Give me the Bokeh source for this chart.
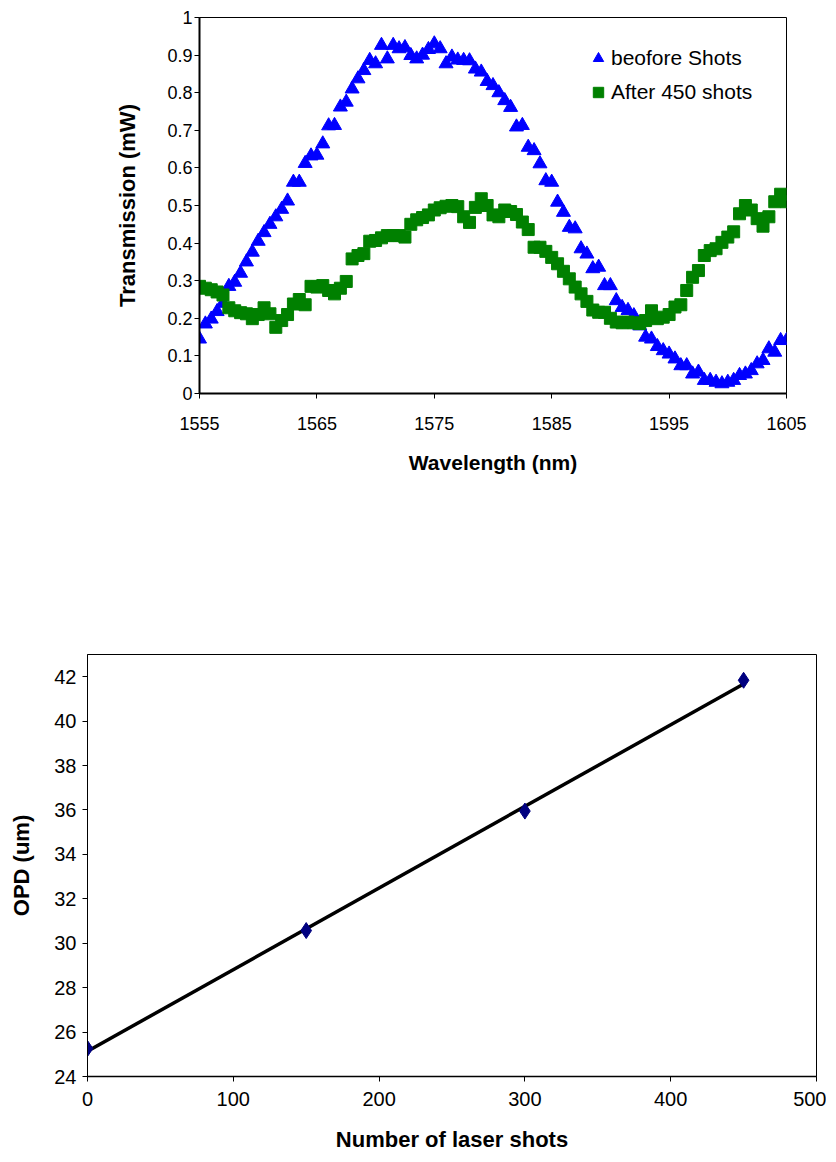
from bokeh.plotting import figure
from bokeh.models import FixedTicker, CustomJSTickFormatter, Range1d, Legend, LegendItem
from bokeh.embed import file_html
from bokeh.resources import INLINE
import numpy as np

# ---------------- data: top chart ----------------
wavelength = [
    1555.0, 1555.5, 1556.0, 1556.5, 1557.0, 1557.5, 1558.0, 1558.5, 1559.0, 1559.5,
    1560.0, 1560.5, 1561.0, 1561.5, 1562.0, 1562.5, 1563.0, 1563.5, 1564.0, 1564.5,
    1565.0, 1565.5, 1566.0, 1566.5, 1567.0, 1567.5, 1568.0, 1568.5, 1569.0, 1569.5,
    1570.0, 1570.5, 1571.0, 1571.5, 1572.0, 1572.5, 1573.0, 1573.5, 1574.0, 1574.5,
    1575.0, 1575.5, 1576.0, 1576.5, 1577.0, 1577.5, 1578.0, 1578.5, 1579.0, 1579.5,
    1580.0, 1580.5, 1581.0, 1581.5, 1582.0, 1582.5, 1583.0, 1583.5, 1584.0, 1584.5,
    1585.0, 1585.5, 1586.0, 1586.5, 1587.0, 1587.5, 1588.0, 1588.5, 1589.0, 1589.5,
    1590.0, 1590.5, 1591.0, 1591.5, 1592.0, 1592.5, 1593.0, 1593.5, 1594.0, 1594.5,
    1595.0, 1595.5, 1596.0, 1596.5, 1597.0, 1597.5, 1598.0, 1598.5, 1599.0, 1599.5,
    1600.0, 1600.5, 1601.0, 1601.5, 1602.0, 1602.5, 1603.0, 1603.5, 1604.0, 1604.5,
    1605.0,
]

before_shots = [
    0.145, 0.185, 0.198, 0.218, 0.240, 0.285, 0.296, 0.320, 0.350, 0.376,
    0.405, 0.428, 0.450, 0.470, 0.490, 0.512, 0.562, 0.562, 0.612, 0.632,
    0.634, 0.664, 0.712, 0.713, 0.762, 0.775, 0.810, 0.837, 0.859, 0.886,
    0.877, 0.926, 0.890, 0.926, 0.917, 0.920, 0.899, 0.890, 0.900, 0.915,
    0.930, 0.917, 0.877, 0.895, 0.887, 0.886, 0.885, 0.863, 0.855, 0.830,
    0.819, 0.800, 0.779, 0.761, 0.709, 0.713, 0.655, 0.646, 0.611, 0.566,
    0.562, 0.509, 0.482, 0.442, 0.438, 0.385, 0.371, 0.332, 0.336, 0.287,
    0.287, 0.247, 0.229, 0.221, 0.207, 0.180, 0.150, 0.145, 0.125, 0.114,
    0.105, 0.092, 0.074, 0.074, 0.052, 0.057, 0.035, 0.035, 0.030, 0.026,
    0.030, 0.035, 0.048, 0.052, 0.061, 0.079, 0.088, 0.119, 0.110, 0.141,
    0.141,
]

after_450_shots = [
    0.285, 0.280, 0.276, 0.270, 0.262, 0.228, 0.220, 0.215, 0.212, 0.199,
    0.210, 0.228, 0.212, 0.176, 0.194, 0.210, 0.238, 0.250, 0.236, 0.285,
    0.283, 0.287, 0.274, 0.265, 0.280, 0.298, 0.358, 0.367, 0.372, 0.405,
    0.407, 0.414, 0.420, 0.420, 0.420, 0.416, 0.450, 0.462, 0.468, 0.475,
    0.488, 0.494, 0.498, 0.500, 0.497, 0.470, 0.455, 0.495, 0.518, 0.500,
    0.475, 0.470, 0.488, 0.484, 0.476, 0.456, 0.436, 0.389, 0.389, 0.378,
    0.362, 0.345, 0.325, 0.305, 0.283, 0.265, 0.245, 0.222, 0.216, 0.216,
    0.200, 0.190, 0.188, 0.190, 0.188, 0.186, 0.194, 0.220, 0.199, 0.203,
    0.210, 0.230, 0.236, 0.274, 0.309, 0.327, 0.367, 0.380, 0.385, 0.402,
    0.416, 0.430, 0.478, 0.500, 0.488, 0.465, 0.445, 0.470, 0.510, 0.530,
    0.510,
]

wl_ticks = [1555, 1565, 1575, 1585, 1595, 1605]
tr_ticks = [0, 0.1, 0.2, 0.3, 0.4, 0.5, 0.6, 0.7, 0.8, 0.9, 1.0]

# ---------------- data: bottom chart ----------------
laser_shots = [0, 150, 300, 450]
opd_um = [25.26, 30.57, 35.95, 41.84]
shot_ticks = [0, 100, 200, 300, 400, 500]
opd_ticks = [24, 26, 28, 30, 32, 34, 36, 38, 40, 42]

FONT = "Liberation Sans"


def style_axes(p, tick_size, title_size):
    for ax in (p.xaxis[0], p.yaxis[0]):
        ax.axis_line_color = "black"
        ax.major_tick_line_color = "black"
        ax.minor_tick_line_color = None
        ax.major_tick_in = 0
        ax.major_tick_out = 5
        ax.major_label_text_font = FONT
        ax.major_label_text_font_size = tick_size
        ax.major_label_text_color = "black"
        ax.axis_label_text_font = FONT
        ax.axis_label_text_font_size = title_size
        ax.axis_label_text_font_style = "bold"
        ax.axis_label_text_color = "black"
    p.xgrid.visible = False
    p.ygrid.visible = False


# ---------------- top chart ----------------
p1 = figure(output_backend="svg", toolbar_location=None,
            frame_width=587, frame_height=376,
            min_border_left=199, min_border_right=40,
            min_border_top=17, min_border_bottom=87,
            x_range=Range1d(1555, 1605), y_range=Range1d(0, 1))
p1.outline_line_color = "black"
p1.outline_line_width = 1
style_axes(p1, "18px", "21px")
p1.yaxis[0].axis_label_text_font_size = "22px"
p1.xaxis[0].ticker = FixedTicker(ticks=wl_ticks)
p1.yaxis[0].ticker = FixedTicker(ticks=tr_ticks)
p1.yaxis[0].formatter = CustomJSTickFormatter(code="return tick.toFixed(1).replace(/\\.0$/, '');")
p1.xaxis[0].axis_line_width = 2
p1.yaxis[0].axis_line_width = 2
p1.xaxis[0].major_label_standoff = 18
p1.yaxis[0].major_label_standoff = 2
p1.xaxis[0].axis_label = "Wavelength (nm)"
p1.yaxis[0].axis_label = "Transmission (mW)"
p1.xaxis[0].axis_label_standoff = 18
p1.yaxis[0].axis_label_standoff = 24

r_before = p1.scatter(wavelength, before_shots, marker="triangle", size=14,
                      fill_color="#0000FF", line_color="#0000FF")
r_after = p1.scatter(wavelength, after_450_shots, marker="square", size=12,
                     fill_color="#008000", line_color="#008000")

legend = Legend(items=[LegendItem(label="beofore Shots", renderers=[r_before]),
                       LegendItem(label="After 450 shots", renderers=[r_after])],
                location=(386, 288))
legend.label_text_font = FONT
legend.label_text_font_size = "21px"
legend.label_text_color = "black"
legend.glyph_width = 26
legend.glyph_height = 26
legend.label_height = 26
legend.label_standoff = 0
legend.spacing = 8
legend.padding = 0
legend.margin = 0
legend.border_line_alpha = 0
legend.background_fill_alpha = 0
p1.add_layout(legend, "center")

# ---------------- bottom chart ----------------
p2 = figure(output_backend="svg", toolbar_location=None,
            frame_width=729, frame_height=422,
            min_border_left=87, min_border_right=10,
            min_border_top=174, min_border_bottom=80,
            x_range=Range1d(0, 500), y_range=Range1d(24, 43))
p2.outline_line_color = "black"
p2.outline_line_width = 1
style_axes(p2, "20px", "22px")
p2.xaxis[0].ticker = FixedTicker(ticks=shot_ticks)
p2.yaxis[0].ticker = FixedTicker(ticks=opd_ticks)
p2.xaxis[0].axis_line_width = 1.5
p2.yaxis[0].axis_line_width = 1
p2.xaxis[0].major_label_standoff = 10
p2.yaxis[0].major_label_standoff = 6
p2.xaxis[0].axis_label = "Number of laser shots"
p2.yaxis[0].axis_label = "OPD (um)"
p2.xaxis[0].axis_label_standoff = 18
p2.yaxis[0].axis_label_standoff = 17

slope, intercept = np.polyfit(laser_shots, opd_um, 1)
fit_x = [min(laser_shots), max(laser_shots)]
fit_y = [slope * v + intercept for v in fit_x]
p2.line(fit_x, fit_y, line_color="black", line_width=3.5)
p2.scatter(laser_shots, opd_um, marker="diamond", size=16,
           fill_color="#000080", line_color="#000080")

open("out.html", "w").write(file_html([p1, p2], INLINE))
